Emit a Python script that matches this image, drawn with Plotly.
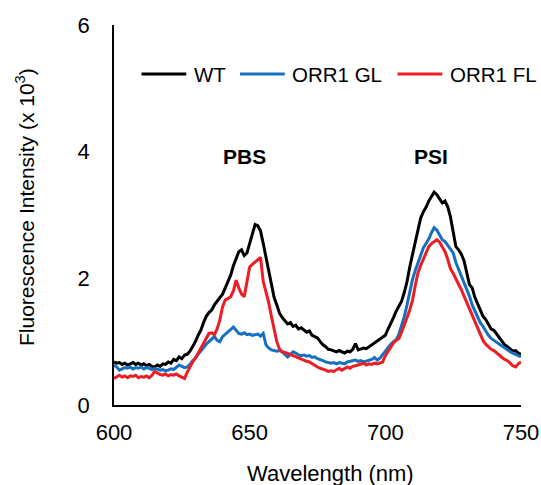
import plotly.graph_objects as go

# Wavelength (nm), 1 nm steps
wavelength = list(range(600, 751))

# Fluorescence intensity (x 10^3)
wt = [
    0.68, 0.66, 0.67, 0.64, 0.66, 0.63, 0.65, 0.67, 0.64, 0.66,
    0.63, 0.65, 0.62, 0.64, 0.61, 0.60, 0.63, 0.61, 0.65, 0.64,
    0.68, 0.66, 0.72, 0.70, 0.76, 0.73, 0.79, 0.80, 0.85, 0.92,
    1.00, 1.10, 1.18, 1.30, 1.40, 1.46, 1.50, 1.58, 1.64, 1.70,
    1.75, 1.85, 1.95, 2.05, 2.20, 2.30, 2.42, 2.45, 2.36, 2.40,
    2.55, 2.70, 2.85, 2.83, 2.75, 2.55, 2.35, 2.10, 1.92, 1.70,
    1.58, 1.45, 1.38, 1.33, 1.28, 1.30, 1.24, 1.26, 1.20, 1.22,
    1.18, 1.15, 1.17, 1.10, 1.08, 1.06, 1.00, 0.95, 0.92, 0.88,
    0.87, 0.85, 0.84, 0.86, 0.84, 0.82, 0.85, 0.84, 0.88, 0.97,
    0.87, 0.88, 0.90, 0.89, 0.92, 0.94, 0.97, 1.00, 1.03, 1.06,
    1.10, 1.20, 1.28, 1.38, 1.48, 1.56, 1.64, 1.78, 1.95, 2.18,
    2.38, 2.58, 2.78, 2.95, 3.05, 3.12, 3.22, 3.30, 3.36, 3.32,
    3.25, 3.19, 3.22, 3.13, 2.97, 2.70, 2.50, 2.45, 2.38, 2.28,
    2.10, 1.90, 1.85, 1.70, 1.60, 1.50, 1.40, 1.35, 1.28, 1.20,
    1.18, 1.12, 1.08, 1.02, 0.95, 0.92, 0.88, 0.85, 0.86, 0.82,
    0.80,
]

orr1_gl = [
    0.63, 0.60, 0.55, 0.57, 0.59, 0.58, 0.60, 0.57, 0.59, 0.58,
    0.60, 0.57, 0.59, 0.58, 0.56, 0.58, 0.57, 0.55, 0.56, 0.54,
    0.55, 0.57, 0.56, 0.60, 0.63, 0.61, 0.59, 0.60, 0.64, 0.70,
    0.74, 0.80, 0.86, 0.92, 0.96, 1.00, 1.04, 1.08, 1.02, 1.00,
    1.08, 1.12, 1.15, 1.20, 1.23, 1.18, 1.13, 1.12, 1.14, 1.11,
    1.12, 1.10, 1.11, 1.12, 1.09, 1.13, 0.95, 0.90, 0.87, 0.86,
    0.85, 0.86, 0.84, 0.80, 0.76, 0.80, 0.84, 0.82, 0.79, 0.78,
    0.79, 0.77, 0.78, 0.75, 0.76, 0.73, 0.72, 0.70, 0.68, 0.67,
    0.66, 0.67, 0.65, 0.67, 0.66, 0.65, 0.68, 0.69, 0.70, 0.71,
    0.69, 0.70, 0.68, 0.69, 0.70, 0.72, 0.75, 0.71, 0.74, 0.80,
    0.86, 0.92, 0.96, 1.00, 1.03, 1.12, 1.25, 1.40, 1.58, 1.78,
    1.98, 2.12, 2.25, 2.38, 2.48, 2.55, 2.62, 2.72, 2.80, 2.76,
    2.68, 2.61, 2.58, 2.52, 2.45, 2.40, 2.25, 2.15, 2.05, 1.95,
    1.85, 1.72, 1.58, 1.48, 1.38, 1.30, 1.24, 1.16, 1.10, 1.05,
    1.02, 0.98, 0.95, 0.92, 0.90, 0.86, 0.84, 0.82, 0.80, 0.78,
    0.76,
]

orr1_fl = [
    0.42, 0.45, 0.47, 0.44, 0.46, 0.43, 0.46, 0.45, 0.47, 0.43,
    0.45, 0.44, 0.46, 0.43, 0.47, 0.53, 0.50, 0.48, 0.47, 0.49,
    0.46, 0.48, 0.47, 0.49, 0.46, 0.44, 0.42, 0.52, 0.61, 0.68,
    0.74, 0.82, 0.90, 0.97, 1.05, 1.13, 1.14, 1.11, 1.20, 1.34,
    1.55, 1.66, 1.68, 1.71, 1.80, 1.97, 1.85, 1.75, 1.71, 1.95,
    2.18, 2.22, 2.26, 2.30, 2.33, 1.95, 1.80, 1.62, 1.40, 1.18,
    1.00, 0.88, 0.84, 0.83, 0.82, 0.80, 0.78, 0.76, 0.74, 0.72,
    0.70, 0.69, 0.68, 0.65, 0.62, 0.60, 0.58, 0.57, 0.55, 0.53,
    0.54, 0.53, 0.56, 0.58, 0.55, 0.57, 0.60, 0.58, 0.61, 0.62,
    0.63, 0.64, 0.66, 0.63, 0.65, 0.64, 0.66, 0.65, 0.67, 0.68,
    0.78, 0.85, 0.92, 0.98, 1.02, 1.05, 1.15, 1.28, 1.38, 1.50,
    1.65, 1.88, 2.08, 2.20, 2.30, 2.40, 2.50, 2.55, 2.58, 2.61,
    2.57, 2.50, 2.42, 2.30, 2.15, 2.08, 2.00, 1.92, 1.82, 1.72,
    1.62, 1.52, 1.42, 1.32, 1.20, 1.10, 1.02, 0.96, 0.92, 0.88,
    0.86, 0.82, 0.78, 0.75, 0.72, 0.70, 0.66, 0.62, 0.60, 0.65,
    0.68,
]

series_names = ["WT", "ORR1 GL", "ORR1 FL"]
series_colors = ["#000000", "#1670c2", "#ee1d23"]

x_ticks = [600, 650, 700, 750]
y_ticks = [0, 2, 4, 6]

peak_labels = ["PBS", "PSI"]
peak_x = [648.2, 717.0]
peak_y = [3.92, 3.92]

FONT = "Liberation Sans, Arial, sans-serif"

# legend layout (paper coordinates of the plot area)
legend_line_x0 = [0.0676, 0.3096, 0.6966]
legend_line_len = 0.110
legend_text_gap = 0.013
legend_y = 0.871

fig = go.Figure()
for name, ys, col in zip(series_names, [wt, orr1_gl, orr1_fl], series_colors):
    fig.add_trace(go.Scatter(
        x=wavelength, y=ys, mode="lines", name=name, showlegend=False,
        line=dict(color=col, width=3),
    ))

# legend drawn as line samples + labels
for name, col, x0 in zip(series_names, series_colors, legend_line_x0):
    fig.add_shape(type="line", xref="paper", yref="paper",
                  x0=x0, x1=x0 + legend_line_len, y0=legend_y, y1=legend_y,
                  line=dict(color=col, width=3))
    fig.add_annotation(text=name, xref="paper", yref="paper",
                       x=x0 + legend_line_len + legend_text_gap, y=legend_y,
                       xanchor="left", yanchor="middle", showarrow=False,
                       font=dict(family=FONT, size=20.5, color="#000000"))

for lbl, px, py in zip(peak_labels, peak_x, peak_y):
    fig.add_annotation(x=px, y=py, text="<b>%s</b>" % lbl, showarrow=False,
                       font=dict(family=FONT, size=21, color="#000000"),
                       xref="x", yref="y")

fig.add_annotation(text="Wavelength (nm)", xref="paper", yref="paper",
                   x=0.533, y=-0.179, showarrow=False,
                   font=dict(family=FONT, size=22, color="#000000"),
                   xanchor="center", yanchor="middle")
fig.add_annotation(text="Fluorescence Intensity (x 10<sup>3</sup>)",
                   xref="paper", yref="paper", x=-0.2187, y=0.521,
                   showarrow=False, textangle=-90,
                   font=dict(family=FONT, size=21, color="#000000"),
                   xanchor="center", yanchor="middle")

fig.update_layout(
    width=541, height=485,
    margin=dict(l=114, r=20, t=25, b=80, autoexpand=False),
    paper_bgcolor="white", plot_bgcolor="white",
    font=dict(family=FONT, size=22, color="#000000"),
    showlegend=False,
    xaxis=dict(range=[600, 750], tickvals=x_ticks, showgrid=False,
               zeroline=False, showline=True, linecolor="#000000",
               linewidth=1.5, ticks="", ticklabelstandoff=7,
               tickfont=dict(size=22)),
    yaxis=dict(range=[0, 6], tickvals=y_ticks, showgrid=False,
               zeroline=False, showline=True, linecolor="#000000",
               linewidth=1.5, ticks="", ticklabelstandoff=18,
               tickfont=dict(size=22)),
)

# remove the default page margin so the figure sits at the window origin
fig.write_html(
    "out.html",
    config={"displayModeBar": False},
    post_script="document.body.style.margin='0px';"
                "document.body.style.overflow='hidden';",
)
